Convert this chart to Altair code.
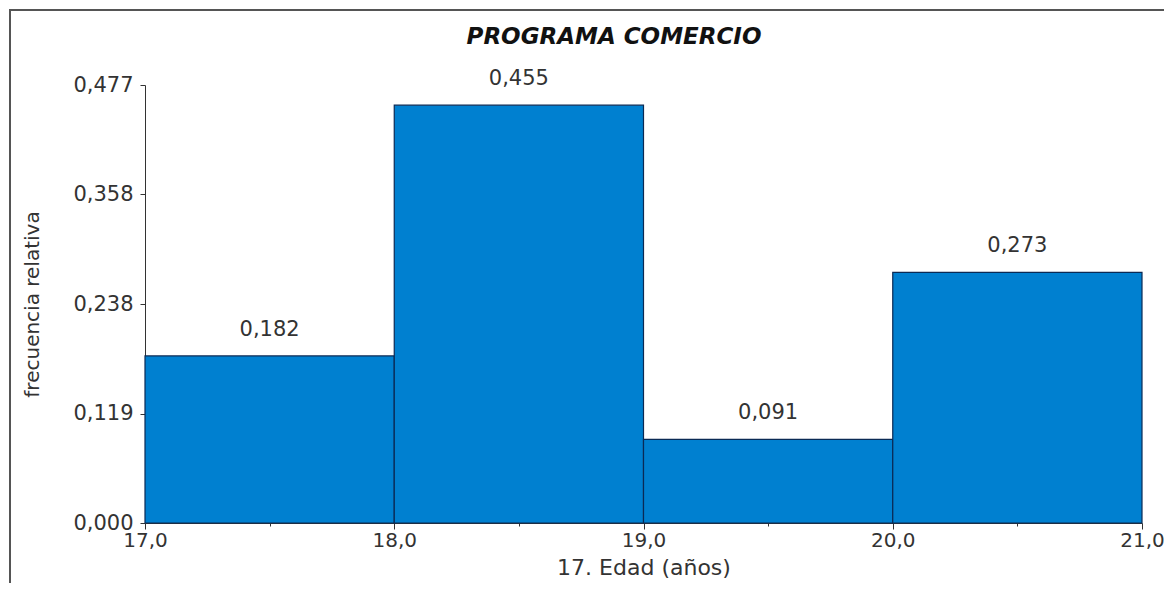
import altair as alt
import pandas as pd

bin_start = [17.0, 18.0, 19.0, 20.0]
bin_end = [18.0, 19.0, 20.0, 21.0]
freq = [0.182, 0.455, 0.091, 0.273]
labels = ["0,182", "0,455", "0,091", "0,273"]
y_ticks = [0.0, 0.119, 0.238, 0.358, 0.477]
x_ticks = [17.0, 17.5, 18.0, 18.5, 19.0, 19.5, 20.0, 20.5, 21.0]
title_text = ["PROGRAMA COMERCIO"]

df = pd.DataFrame({"start": bin_start, "end": bin_end, "freq": freq, "label": labels})
tdf = pd.DataFrame({"t": title_text})

FONT = "DejaVu Sans"
TXT = "#333333"

x_enc = alt.X("start:Q", scale=alt.Scale(domain=[17, 21], nice=False, zero=False),
              axis=alt.Axis(values=x_ticks, title="17. Edad (años)",
                            labelExpr="datum.value % 1 == 0 ? replace(format(datum.value, '.1f'), '.', ',') : ''",
                            tickSize={"condition": {"test": "datum.value % 1 != 0", "value": 3}, "value": 6},
                            grid=False, domainColor="#333333", tickColor="#333333",
                            labelFontSize=20, labelColor=TXT, labelFont=FONT,
                            labelPadding=1, titleFontSize=22, titleFont=FONT,
                            titleFontWeight="normal", titleColor=TXT, titlePadding=7,
                            labelFlush=False, labelOverlap=False))
y_enc = alt.Y("freq:Q", scale=alt.Scale(domain=[0, 0.477], nice=False),
              axis=alt.Axis(values=y_ticks, title="frecuencia relativa",
                            labelExpr="replace(format(datum.value, '.3f'), '.', ',')",
                            grid=False, domainColor="#333333", tickColor="#333333",
                            tickSize=5, labelFontSize=21, labelColor=TXT, labelFont=FONT,
                            labelPadding=7, titleFontSize=20, titleFont=FONT,
                            titleFontWeight="normal", titleColor=TXT, titlePadding=30,
                            labelOverlap=False))

bars = alt.Chart(df).mark_rect(color="#0080D0", stroke="#0a2a55", strokeWidth=1.2).encode(
    x=x_enc, x2="end:Q", y=y_enc, y2=alt.datum(0)
)

text = alt.Chart(df).mark_text(dy=-26, fontSize=21, font=FONT, color=TXT).encode(
    x=alt.X("mid:Q"), y=alt.Y("freq:Q"), text="label:N"
).transform_calculate(mid="(datum.start + datum.end) / 2")

title = alt.Chart(tdf).mark_text(fontSize=23, font=FONT, fontStyle="italic", fontWeight="bold",
                                 color="#111111", align="center", baseline="middle").encode(
    x=alt.value(469), y=alt.value(-48), text="t:N"
)

frame_top = alt.Chart(df).mark_rule(color="#555555", strokeWidth=2).encode(
    x=alt.value(-136), x2=alt.value(1030), y=alt.value(-75)
)
frame_left = alt.Chart(df).mark_rule(color="#555555", strokeWidth=2).encode(
    x=alt.value(-135), y=alt.value(-76), y2=alt.value(520)
)

chart = alt.layer(frame_top, frame_left, bars, text, title).properties(
    width=997, height=438,
    autosize=alt.AutoSizeParams(type="none"),
    padding={"left": 137, "top": 77, "right": 22, "bottom": 60},
).configure_view(stroke=None)

chart.save("out.html", embed_options={"renderer": "svg", "actions": False})
